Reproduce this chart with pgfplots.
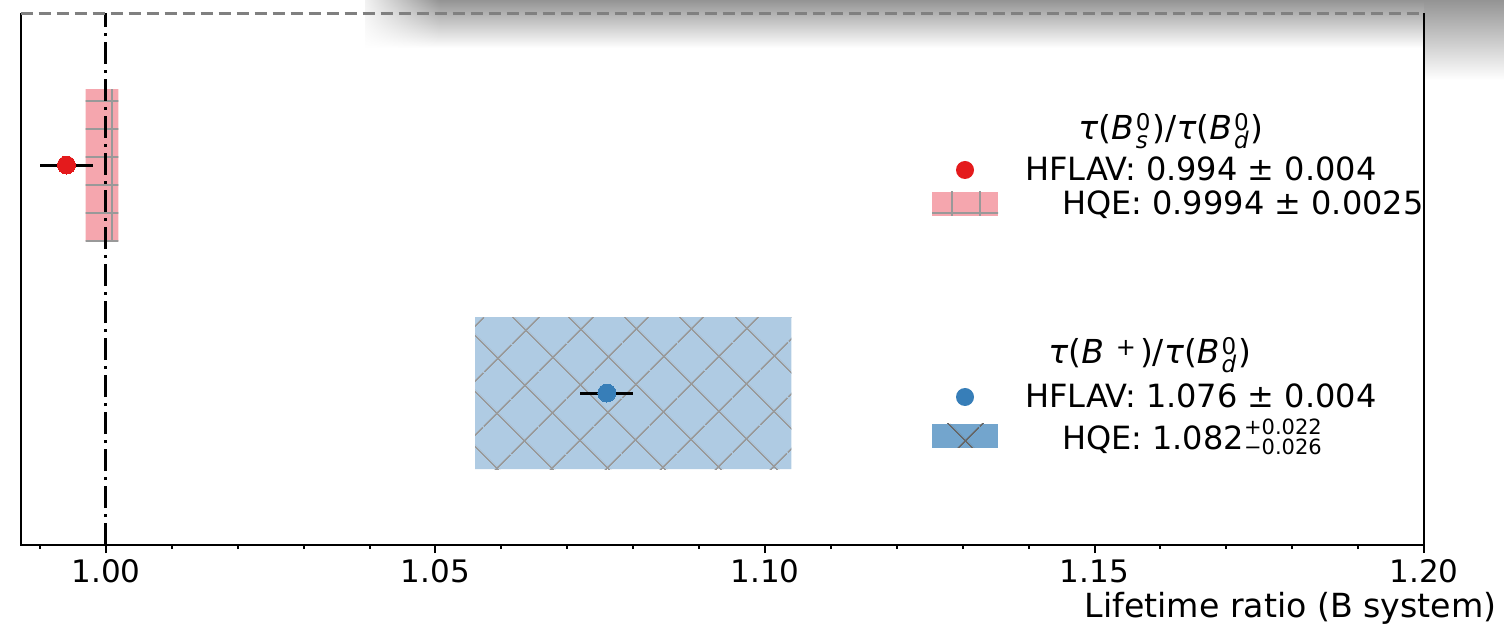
\documentclass[border=0pt]{standalone}
\usepackage{fontspec}
\setmainfont{DejaVu Sans}
\usepackage{pgfplots}
\pgfplotsset{compat=1.18}
\usetikzlibrary{patterns.meta,fadings}
\definecolor{redpt}{HTML}{E41A1C}
\definecolor{bluept}{HTML}{377EB8}
\definecolor{redfill}{RGB}{245,166,174}
\colorlet{bluefill}{bluept!40!white}
\colorlet{bluelegend}{bluept!70!white}
\colorlet{hatchgray}{black!40}
% #1 size, #2 raise sup, #3 lower sub, #4 sup, #5 sub
\newcommand{\SupSub}[5]{{\fontsize{#1}{#1}\selectfont%
\setbox0=\hbox{#4}\setbox2=\hbox{#5}%
\dimen0=\wd0 \ifdim\wd2>\dimen0 \dimen0=\wd2\fi
\rlap{\raisebox{#2}{\box0}}\rlap{\raisebox{-#3}{\box2}}\hspace{\dimen0}}}
\newcommand{\tB}{\textit{τ}(\textit{B}}
\pgfplotsset{
  legrow/.style={
    width=701.65pt, height=266pt, scale only axis,
    hide axis, xmin=0, xmax=1, ymin=0, ymax=1,
    legend cell align=left,
    legend style={draw=none, fill=none, inner sep=0pt, outer sep=0pt,
      font=\fontsize{16}{18}\selectfont, row sep=0pt, column sep=0pt,
      nodes={inner sep=0pt, outer sep=0pt},
      at={(0.6494,#1)}, anchor=west},
  }
}
\begin{document}
\begin{tikzpicture}
% screenshot shadow at top
\begin{scope}[x=0.5pt,y=-0.5pt,shift={(-20.7,-545)}]
  \shade[top color=black!42, bottom color=white] (1424,0) rectangle (1504,80);
  \shade[top color=black!42, bottom color=white] (365,0) rectangle (1424,48);
  \fill[white, path fading=east] (355,0) rectangle (440,50);
\end{scope}
\begin{axis}[
  width=701.65pt, height=266pt, scale only axis,
  xmin=0.98706, xmax=1.20, ymin=0, ymax=7,
  axis line style={draw=none},
  xtick={1.00,1.05,1.10,1.15,1.20},
  minor xtick={0.99,1.01,1.02,1.03,1.04,1.06,1.07,1.08,1.09,1.11,1.12,1.13,1.14,1.16,1.17,1.18,1.19},
  ytick=\empty,
  xtick pos=bottom, tick align=outside,
  major tick length=4pt, minor tick length=2pt,
  every tick/.style={black, line width=1pt},
  xticklabel style={font=\fontsize{15.5}{18}\selectfont, inner sep=0pt, yshift=-3pt},
  /pgf/number format/.cd, fixed, fixed zerofill, precision=2, assume math mode=true,
  /pgfplots/.cd,
  xlabel={Lifetime ratio (B system)},
  xlabel style={font=\fontsize{16.6}{18}\selectfont, anchor=base east, inner sep=0pt,
    at={(axis description cs:1.0520,-0.1372)}},
  clip=false,
]
% HQE boxes
\addplot[fill=redfill, draw=none] coordinates {(0.9969,4) (1.0019,4) (1.0019,6) (0.9969,6) (0.9969,4)};
\addplot[draw=none, pattern={Hatch[angle=0,distance=14pt,line width=0.8pt]}, pattern color=hatchgray] coordinates {(0.9969,4) (1.0019,4) (1.0019,6) (0.9969,6) (0.9969,4)};
\addplot[fill=bluefill, draw=none] coordinates {(1.056,1) (1.104,1) (1.104,3) (1.056,3) (1.056,1)};
\addplot[draw=none, pattern={Hatch[angle=45,distance=19.5pt,line width=0.8pt]}, pattern color=hatchgray] coordinates {(1.056,1) (1.104,1) (1.104,3) (1.056,3) (1.056,1)};
% reference line
\addplot[black, line width=1.5pt, dash pattern=on 11pt off 3pt on 1.5pt off 3pt] coordinates {(1,0) (1,7)};
% HFLAV points
\addplot[only marks, mark=*, mark size=4.5pt, mark options={fill=redpt, draw=redpt, line width=0pt},
  error bars/.cd, x dir=both, x explicit, error mark=none,
  error bar style={line width=1.5pt, black}]
  coordinates {(0.994,5) +- (0.004,0)};
\addplot[only marks, mark=*, mark size=4.5pt, mark options={fill=bluept, draw=bluept, line width=0pt},
  error bars/.cd, x dir=both, x explicit, error mark=none,
  error bar style={line width=1.5pt, black}]
  coordinates {(1.076,2) +- (0.004,0)};
% frame
\draw[black, line width=1pt] (rel axis cs:0,1) -- (rel axis cs:0,0) -- (rel axis cs:1,0) -- (rel axis cs:1,1);
\draw[black!50, line width=1.5pt, dash pattern=on 6pt off 3pt] (rel axis cs:0,1) -- (rel axis cs:1,1);
% legend titles
\node[anchor=base west, inner sep=0pt, font=\fontsize{16.5}{20}\selectfont] at (rel axis cs:0.7534,0.7613)
  {\tB\hspace{1pt}\SupSub{11.5}{4.5pt}{4.5pt}{0}{\textit{s}}\hspace{1pt})/\tB\hspace{1pt}\SupSub{11.5}{4.5pt}{4.5pt}{0}{\textit{d}}\hspace{1pt})};
\node[anchor=base west, inner sep=0pt, font=\fontsize{16.5}{20}\selectfont] at (rel axis cs:0.7321,0.3421)
  {\tB\hspace{6pt}\raisebox{4pt}{\fontsize{12}{12}\selectfont +}\hspace{2pt})/\tB\hspace{1pt}\SupSub{11.5}{4.5pt}{4.5pt}{0}{\textit{d}}\hspace{1pt})};
\end{axis}
% legend rows
\begin{axis}[legrow=0.7049]
\addlegendimage{legend image code/.code={\path[draw=none] (0pt,-6pt) rectangle (33pt,6pt); \fill[redpt, draw=none] (16.5pt,0pt) circle[radius=4.5pt];}}
\addlegendentry{\hspace{13.5pt}HFLAV: 0.994 ± 0.004}
\end{axis}
\begin{axis}[legrow=0.6410]
\addlegendimage{legend image code/.code={\fill[redfill, draw=none] (0pt,-6pt) rectangle (33pt,6pt); \fill[draw=none, pattern={Hatch[angle=0,distance=14pt,line width=0.8pt]}, pattern color=hatchgray] (0pt,-6pt) rectangle (33pt,6pt);}}
\addlegendentry{\hspace{32pt}HQE: 0.9994 ± 0.0025}
\end{axis}
\begin{axis}[legrow=0.2782]
\addlegendimage{legend image code/.code={\path[draw=none] (0pt,-6pt) rectangle (33pt,6pt); \fill[bluept, draw=none] (16.5pt,0pt) circle[radius=4.5pt];}}
\addlegendentry{\hspace{13.5pt}HFLAV: 1.076 ± 0.004}
\end{axis}
\begin{axis}[legrow=0.2049]
\addlegendimage{legend image code/.code={\fill[bluelegend, draw=none] (0pt,-6pt) rectangle (33pt,6pt); \fill[draw=none, pattern={Hatch[angle=45,distance=19.5pt,line width=0.8pt]}, pattern color=black!60] (0pt,-6pt) rectangle (33pt,6pt);}}
\addlegendentry{\hspace{32pt}HQE: 1.082\SupSub{10.5}{7.5pt}{2.5pt}{+0.022}{−0.026}}
\end{axis}
\pgfresetboundingbox
\path[use as bounding box] (-10.35pt,-44pt) rectangle (741.65pt,272.5pt);
\end{tikzpicture}
\end{document}
